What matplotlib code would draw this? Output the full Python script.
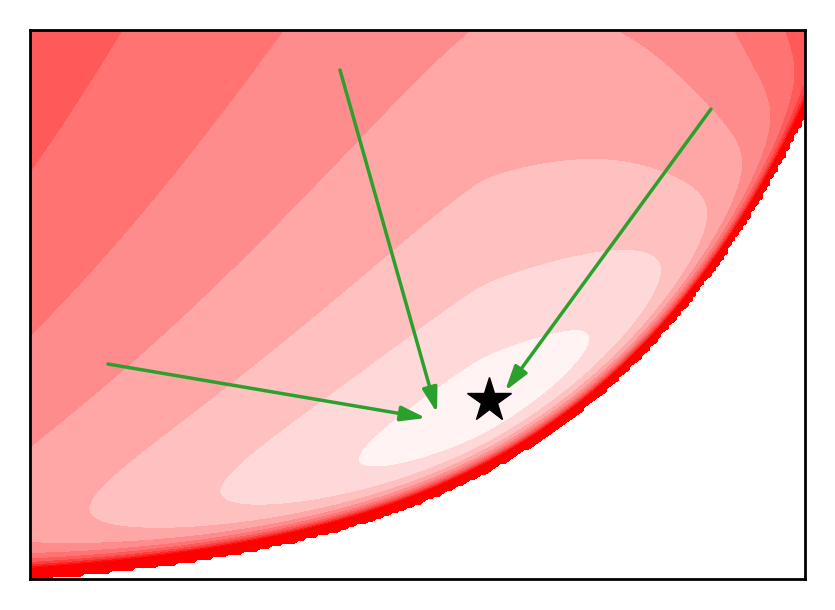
import numpy as np
import matplotlib
matplotlib.use('Agg')
import matplotlib.pyplot as plt
from matplotlib.colors import LinearSegmentedColormap

# ---- values (axes units 0..1) ----
star_x = [0.5923]
star_y = [0.3260]

arrow_x0 = [0.1006, 0.4000, 0.8787]
arrow_y0 = [0.3916, 0.9271, 0.8561]
arrow_x1 = [0.5110, 0.5252, 0.6129]
arrow_y1 = [0.2933, 0.3024, 0.3424]

# feasible-region boundary y = A*(exp(k*x)-1)+c
bound_A, bound_k, bound_c = 0.0332, 3.27, -0.003
# loss-surface shape parameters
tau, c_s, a_s, q_s, beta, x_opt = 0.1219, 0.00316, 1.876, 1.43, 9.0, 0.5848
power, step, offset = 0.771, 0.2774, -0.225
n_levels = 11
# -----------------------------------------------------------

def boundary(x):
    return bound_A*(np.exp(bound_k*x) - 1) + bound_c

def loss(x, y):
    t = y - boundary(x)
    t = np.where(t > 0, t, np.nan)
    e = x - x_opt
    d = e + beta*np.maximum(e, 0)**3
    S = tau*(1 + c_s*d*d)
    eps = 0.01
    along = a_s*((d*d + eps**2)**(q_s/2) - eps**q_s)
    g = np.log(t/tau) + S/t - 1 + along
    return np.maximum(g, 0)**power

n = 200
xs = np.linspace(0, 1, n)
ys = np.linspace(0, 1, n)
X, Y = np.meshgrid(xs, ys)
Z = loss(X, Y)

cmap = LinearSegmentedColormap.from_list('white_red', ['white', 'red'])
levels = (np.arange(n_levels) + offset)*step

fig, ax = plt.subplots(figsize=(8.35, 6.1), dpi=100)
fig.subplots_adjust(left=30/835, right=805/835, bottom=31/610, top=580/610)
ax.contourf(X, Y, Z, levels=levels, cmap=cmap, extend='max')

for x0, y0, x1, y1 in zip(arrow_x0, arrow_y0, arrow_x1, arrow_y1):
    ax.annotate('', xy=(x1, y1), xytext=(x0, y0),
                arrowprops=dict(arrowstyle='-|>,head_length=0.5,head_width=0.15',
                                color='#2ca02c', lw=2.5, mutation_scale=30,
                                shrinkA=0, shrinkB=0))
ax.plot(star_x, star_y, linestyle='none', marker='*', ms=33, color='black')

ax.set_xlim(0, 1)
ax.set_ylim(0, 1)
ax.set_xticks([])
ax.set_yticks([])
for s in ax.spines.values():
    s.set_linewidth(2)
fig.savefig('out.png')
